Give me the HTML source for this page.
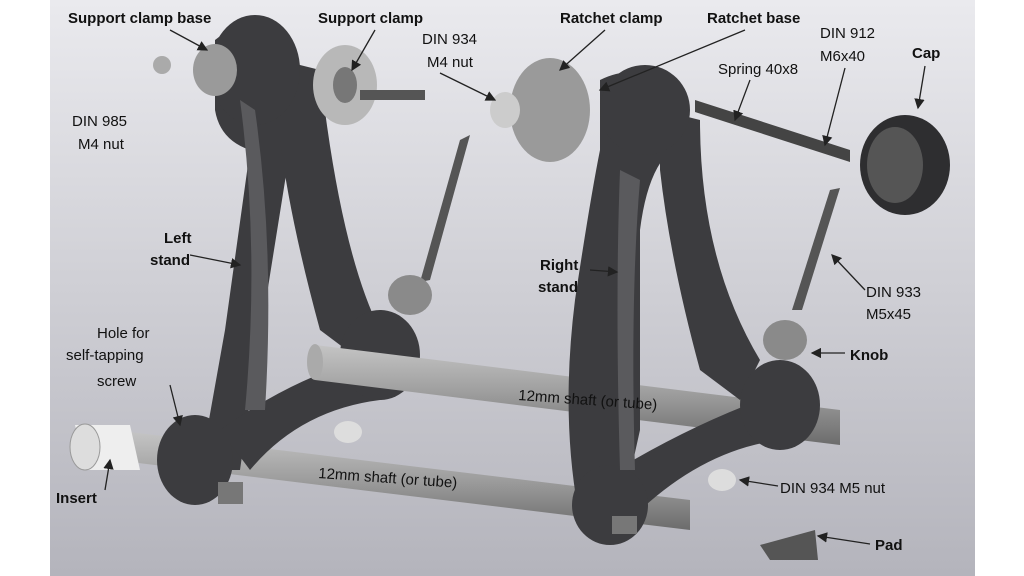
<!DOCTYPE html>
<html><head><meta charset="utf-8"><style>
html,body{margin:0;padding:0;background:#fff}
svg{display:block}
text{font-family:"Liberation Sans",sans-serif;font-size:15px;fill:#111}
.b{font-weight:bold}
</style></head><body>
<svg width="1024" height="576" viewBox="0 0 1024 576" xmlns="http://www.w3.org/2000/svg">
<defs>
<linearGradient id="bg" x1="0" y1="0" x2="0" y2="1">
<stop offset="0" stop-color="#eaeaee"/><stop offset="1" stop-color="#b4b4bc"/></linearGradient>
<linearGradient id="sh" x1="0" y1="0" x2="0" y2="1">
<stop offset="0" stop-color="#c4c4c4"/><stop offset=".5" stop-color="#9c9c9c"/><stop offset="1" stop-color="#6c6c6c"/></linearGradient>
<marker id="a" markerWidth="8" markerHeight="8" refX="7" refY="4" orient="auto"><path d="M0,0L8,4L0,8z" fill="#222"/></marker>
</defs>
<rect x="50" y="0" width="925" height="576" fill="url(#bg)"/>
<!-- lower shaft -->
<path d="M130,432 L690,500 L690,530 L130,462 Z" fill="url(#sh)"/>
<!-- left stand -->
<g fill="#3c3c3f">
<path d="M215,40 Q240,20 275,30 L300,70 Q300,120 290,150 L250,400 L240,470 L200,470 L225,330 L250,150 Q220,140 215,110 Z"/>
<path d="M280,60 L320,70 Q340,250 380,330 L360,360 L320,330 Q290,220 280,140 Z"/>
<path d="M220,430 Q290,380 360,360 L380,400 Q300,410 250,470 Z"/>
<ellipse cx="255" cy="70" rx="45" ry="55"/>
<ellipse cx="195" cy="460" rx="38" ry="45"/>
<ellipse cx="380" cy="355" rx="40" ry="45"/>
</g>
<path d="M240,100 Q260,250 245,410 L265,410 Q275,250 255,110 Z" fill="#5a5a5d"/>
<!-- upper shaft -->
<path d="M315,345 L840,410 L840,445 L315,380 Z" fill="url(#sh)"/>
<ellipse cx="315" cy="362" rx="8" ry="18" fill="#aaa"/>
<!-- right stand -->
<g fill="#3c3c3f">
<path d="M600,80 Q640,60 680,90 L690,140 Q650,150 640,230 L640,430 L620,520 L580,520 Q560,420 575,300 Q590,200 600,150 Z"/>
<path d="M660,110 L700,120 Q700,260 760,360 L740,400 L700,370 Q670,260 660,170 Z"/>
<path d="M600,480 Q680,430 760,400 L780,440 Q700,450 630,520 Z"/>
<ellipse cx="645" cy="110" rx="45" ry="45"/>
<ellipse cx="610" cy="505" rx="38" ry="40"/>
<ellipse cx="780" cy="405" rx="40" ry="45"/>
</g>
<path d="M620,170 Q615,300 620,470 L635,470 Q630,300 640,180 Z" fill="#5a5a5d"/>
<!-- clamps / misc parts -->
<ellipse cx="345" cy="85" rx="32" ry="40" fill="#b8b8b8"/>
<ellipse cx="345" cy="85" rx="12" ry="18" fill="#777"/>
<rect x="360" y="90" width="65" height="10" fill="#555"/>
<ellipse cx="215" cy="70" rx="22" ry="26" fill="#9a9a9a"/>
<ellipse cx="162" cy="65" rx="9" ry="9" fill="#aaa"/>
<ellipse cx="550" cy="110" rx="40" ry="52" fill="#9a9a9a"/>
<ellipse cx="505" cy="110" rx="15" ry="18" fill="#ccc"/>
<path d="M695,100 L850,150 L850,162 L695,112Z" fill="#444"/>
<ellipse cx="905" cy="165" rx="45" ry="50" fill="#2e2e30"/>
<ellipse cx="895" cy="165" rx="28" ry="38" fill="#555"/>
<path d="M460,140 L470,135 L430,280 L420,282Z" fill="#555"/>
<path d="M830,190 L840,188 L802,310 L792,310Z" fill="#555"/>
<ellipse cx="410" cy="295" rx="22" ry="20" fill="#8a8a8a"/>
<ellipse cx="785" cy="340" rx="22" ry="20" fill="#8a8a8a"/>
<ellipse cx="348" cy="432" rx="14" ry="11" fill="#ddd"/>
<ellipse cx="722" cy="480" rx="14" ry="11" fill="#ddd"/>
<path d="M760,545 L815,530 L818,560 L770,560Z" fill="#555"/>
<path d="M75,425 L130,425 L140,470 L85,470Z" fill="#eee"/>
<ellipse cx="85" cy="447" rx="15" ry="23" fill="#ddd" stroke="#999"/>
<rect x="218" y="482" width="25" height="22" fill="#777"/>
<rect x="612" y="516" width="25" height="18" fill="#777"/>
<!-- labels -->
<text x="68" y="23" class="b">Support clamp base</text>
<text x="318" y="23" class="b">Support clamp</text>
<text x="422" y="44">DIN 934</text><text x="427" y="67">M4 nut</text>
<text x="560" y="23" class="b">Ratchet clamp</text>
<text x="707" y="23" class="b">Ratchet base</text>
<text x="820" y="38">DIN 912</text><text x="820" y="61">M6x40</text>
<text x="718" y="74">Spring 40x8</text>
<text x="912" y="58" class="b">Cap</text>
<text x="72" y="126">DIN 985</text><text x="78" y="149">M4 nut</text>
<text x="164" y="243" class="b">Left</text><text x="150" y="265" class="b">stand</text>
<text x="540" y="270" class="b">Right</text><text x="538" y="292" class="b">stand</text>
<text x="866" y="297">DIN 933</text><text x="866" y="319">M5x45</text>
<text x="850" y="360" class="b">Knob</text>
<text x="97" y="338">Hole for</text><text x="66" y="360">self-tapping</text><text x="97" y="386">screw</text>
<text x="518" y="400" transform="rotate(4 518 400)">12mm shaft (or tube)</text>
<text x="318" y="478" transform="rotate(4 318 478)">12mm shaft (or tube)</text>
<text x="56" y="503" class="b">Insert</text>
<text x="780" y="493">DIN 934 M5 nut</text>
<text x="875" y="550" class="b">Pad</text>
<!-- leaders -->
<g stroke="#222" stroke-width="1.3" fill="none" marker-end="url(#a)">
<line x1="170" y1="30" x2="207" y2="50"/>
<line x1="375" y1="30" x2="352" y2="70"/>
<line x1="440" y1="73" x2="495" y2="100"/>
<line x1="605" y1="30" x2="560" y2="70"/>
<line x1="745" y1="30" x2="600" y2="90"/>
<line x1="845" y1="68" x2="825" y2="145"/>
<line x1="750" y1="80" x2="735" y2="120"/>
<line x1="925" y1="66" x2="918" y2="108"/>
<line x1="190" y1="255" x2="240" y2="265"/>
<line x1="590" y1="270" x2="617" y2="272"/>
<line x1="865" y1="290" x2="832" y2="255"/>
<line x1="845" y1="353" x2="812" y2="353"/>
<line x1="170" y1="385" x2="180" y2="425"/>
<line x1="105" y1="490" x2="110" y2="460"/>
<line x1="778" y1="486" x2="740" y2="480"/>
<line x1="870" y1="544" x2="818" y2="536"/>
</g>
</svg>
</body></html>
